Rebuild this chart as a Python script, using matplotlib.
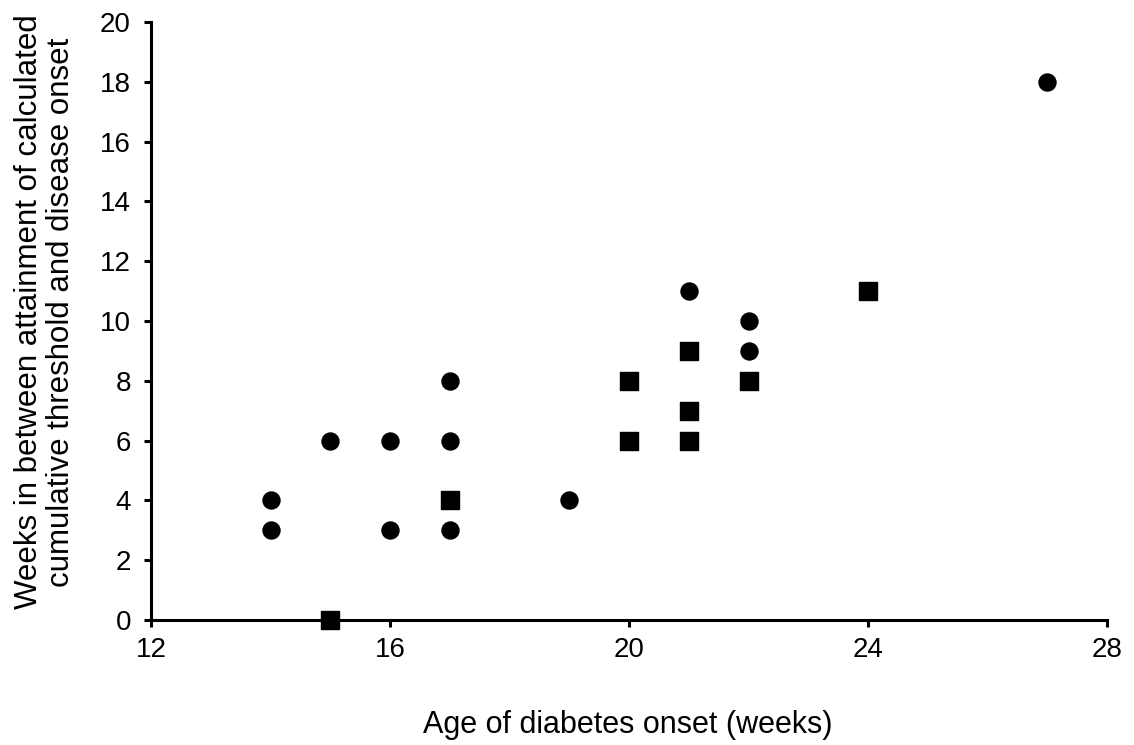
import matplotlib.pyplot as plt

plt.rcParams['font.family'] = ['Liberation Sans', 'DejaVu Sans']

# circles
circ_x = [14, 14, 15, 16, 16, 17, 17, 17, 19, 21, 22, 22, 27]
circ_y = [4, 3, 6, 6, 3, 8, 6, 3, 4, 11, 10, 9, 18]
# squares
sq_x = [15, 17, 20, 20, 21, 21, 21, 22, 24]
sq_y = [0, 4, 8, 6, 9, 7, 6, 8, 11]

xticks = [12, 16, 20, 24, 28]
yticks = list(range(0, 21, 2))

fig = plt.figure(figsize=(11.34, 7.45), dpi=100)
ax = fig.add_axes([0.1332, 0.1678, 0.8430, 0.8027])

ax.scatter(circ_x, circ_y, s=150, marker='o', color='black', zorder=3, clip_on=False)
ax.scatter(sq_x, sq_y, s=150, marker='s', color='black', zorder=3, clip_on=False)

ax.set_xlim(12, 28)
ax.set_ylim(0, 20)
ax.set_xticks(xticks)
ax.set_yticks(yticks)
ax.spines['top'].set_visible(False)
ax.spines['right'].set_visible(False)
for s in ('left', 'bottom'):
    ax.spines[s].set_linewidth(2.2)
ax.tick_params(width=2.2, length=5, labelsize=20)
ax.tick_params(axis='y', pad=9.5)
ax.tick_params(axis='x', pad=7)

ax.set_xlabel('Age of diabetes onset (weeks)', fontsize=22, va='baseline')
ax.xaxis.set_label_coords(0.499, -0.189)
ax.set_ylabel('Weeks in between attainment of calculated\ncumulative threshold and disease onset',
              fontsize=22.5, linespacing=1.05, va='center')
ax.yaxis.set_label_coords(-0.111, 0.515)

fig.savefig('out.png', dpi=100)
